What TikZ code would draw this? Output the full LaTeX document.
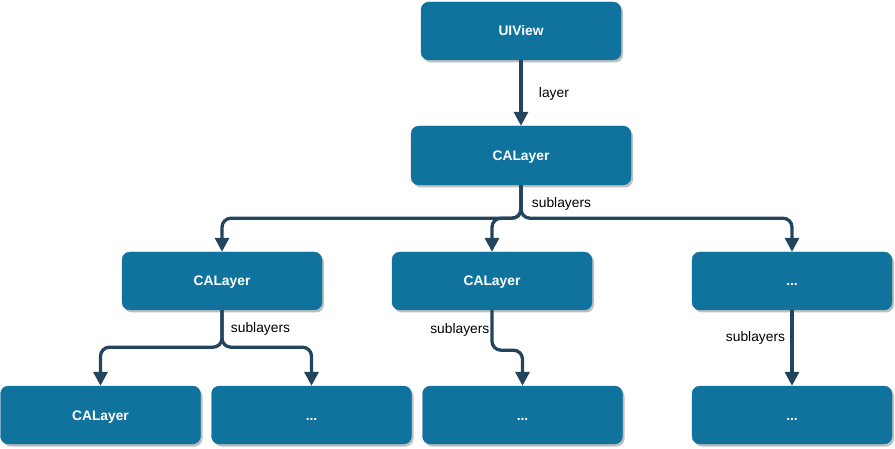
\documentclass[tikz,border=0pt]{standalone}
\usepackage{fontspec}
\setmainfont{Liberation Sans}
\usetikzlibrary{arrows.meta, positioning, shadows}
\definecolor{boxblue}{HTML}{10739E}
\definecolor{linkblue}{HTML}{23445D}
\tikzset{
    layerbox/.style={rectangle, rounded corners=8pt, draw=boxblue, fill=boxblue, text=white,
        minimum width=200pt, minimum height=58pt, text depth=3pt, text height=13pt,
        font=\fontsize{13.8}{16}\selectfont\bfseries,
        drop shadow={shadow xshift=2pt, shadow yshift=-2.5pt, fill=black!25, opacity=1}},
    link/.style={line width=3.3pt, draw=linkblue, rounded corners=9pt,
        -{Triangle[width=14pt, length=14pt]}, linkblue},
    tag/.style={font=\fontsize{13.8}{16}\selectfont, text=black}
}

\begin{document}
\begin{tikzpicture}[x=1pt, y=-1pt]
        \useasboundingbox (0,0) rectangle (895,449);
        % top
        \node[layerbox] (uiview) at (521,31) {UIView};
        \node[layerbox, minimum width=220pt, minimum height=59pt] (root) at (521,155.5) {CALayer};
        % second row
        \node[layerbox] (la) at (222,281) {CALayer};
        \node[layerbox] (lb) at (492,281) {CALayer};
        \node[layerbox] (lc) at (792,281) {...};
        % third row
        \node[layerbox] (l1) at (100.5,415) {CALayer};
        \node[layerbox] (l2) at (311.5,415) {...};
        \node[layerbox] (l3) at (522.5,415) {...};
        \node[layerbox] (l4) at (792,415) {...};

        \draw[link] (uiview.south) -- node[tag, right=13pt, yshift=-1pt]{layer} (root.north);
        \draw[link] (root.south) -- node[tag, right=6pt, yshift=-2.5pt]{sublayers} ++(0,33) -| (la.north);
        \draw[link] (root.south) -- ++(0,33) -| (lb.north);
        \draw[link] (root.south) -- ++(0,33) -| (lc.north);
        \draw[link] (la.south) -- node[tag, right=4pt]{sublayers} ++(0,37) -| (l1.north);
        \draw[link] (la.south) -- ++(0,37) -| (l2.north);
        \draw[link] (lb.south) -- node[tag, left, inner sep=1pt]{sublayers} ++(0,40) -| (l3.north);
        \draw[link] (lc.south) -- node[tag, left=2pt, pos=0.37]{sublayers} (l4.north);
    \end{tikzpicture}
\end{document}
